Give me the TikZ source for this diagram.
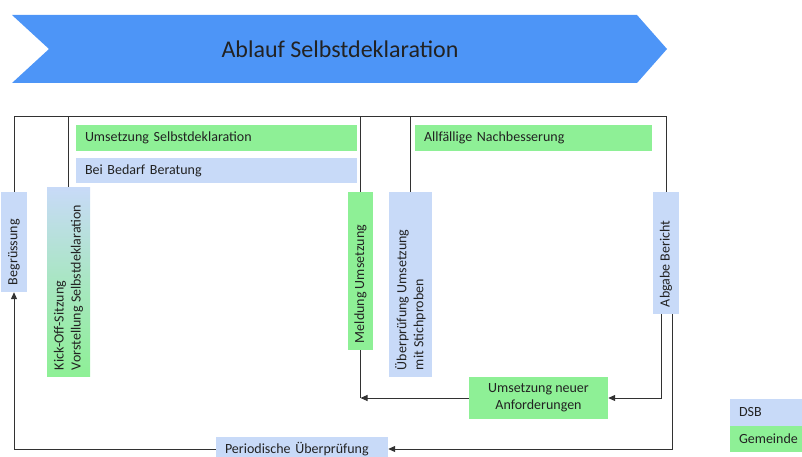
\documentclass[tikz,border=0pt]{standalone}
\usepackage{fontspec}
\setmainfont{Carlito}
\usepackage{graphicx}
\usetikzlibrary{arrows.meta}
\definecolor{dsbblue}{RGB}{200,218,248}
\definecolor{gemgreen}{RGB}{142,240,150}
\definecolor{chev}{RGB}{77,149,247}
\definecolor{ink}{RGB}{34,34,34}
\definecolor{wire}{RGB}{50,50,50}
\tikzset{
  box/.style={inner sep=0pt, text=ink, font=\fontsize{14}{17}\selectfont, anchor=center},
  bluebox/.style={box, fill=dsbblue},
  greenbox/.style={box, fill=gemgreen},
  hbox/.style={inner xsep=9pt, align=left, text width=#1},
  conn/.style={draw=wire, line width=1pt},
  arr/.style={conn, -{Triangle[length=7pt,width=6pt]}}
}
\newcommand{\vtext}[2]{\rotatebox{90}{\parbox{#1}{\raggedright #2}}}
\begin{document}
\begin{tikzpicture}[x=1pt,y=-1pt]
\useasboundingbox (0,0) rectangle (802,457);
% chevron
\fill[chev] (12,15) -- (637,15) -- (667,49) -- (637,83) -- (12,83) -- (49,49) -- cycle;
\node[text=ink, font=\fontsize{24}{28}\selectfont] (title) at (340,49) {Ablauf Selbstdeklaration};
% horizontal boxes
\node[greenbox, hbox=263pt, minimum height=26pt] (umsd) at (216.5,138) {Umsetzung Selbstdeklaration};
\node[bluebox, hbox=263pt, minimum height=25pt] (bera) at (216.5,170.5) {Bei Bedarf Beratung};
\node[greenbox, hbox=219pt, minimum height=26pt] (nach) at (533.5,138) {Allfällige Nachbesserung};
\node[bluebox, hbox=154pt, minimum height=24pt] (peri) at (302,449) {Periodische Überprüfung};
\node[greenbox, align=center, minimum width=139pt, minimum height=42pt] (neuer) at (538.5,398) {Umsetzung neuer\\Anforderungen};
% legend
\node[bluebox, hbox=62pt, minimum height=27pt] (dsb) at (770,412.5) {DSB};
\node[greenbox, hbox=62pt, minimum height=26pt] (gem) at (770,439) {Gemeinde};
% vertical boxes
\node[bluebox, minimum width=26pt, minimum height=100pt] (beg) at (14,242) {\vtext{86pt}{Begrüssung}};
\node[box, top color=dsbblue, bottom color=gemgreen, middle color=dsbblue!45!gemgreen, minimum width=43pt, minimum height=189pt] (kick) at (68.5,281.5) {\vtext{177pt}{Kick-Off-Sitzung\\Vorstellung Selbstdeklaration}};
\node[greenbox, minimum width=25pt, minimum height=158pt] (meld) at (360.5,271) {\vtext{144pt}{Meldung Umsetzung}};
\node[bluebox, minimum width=43pt, minimum height=185pt] (ueber) at (410.5,284.5) {\vtext{171pt}{Überprüfung Umsetzung\\mit Stichproben}};
\node[bluebox, minimum width=26pt, minimum height=122pt] (abg) at (666,253) {\vtext{108pt}{Abgabe Bericht}};
% connectors
\coordinate (tr) at (666,117);
\draw[conn] (beg.north) |- (tr) -- (abg.north);
\draw[conn] (kick.north) -- (kick.north |- tr);
\draw[conn] (meld.north) -- (meld.north |- tr);
\draw[conn] (ueber.north) -- (ueber.north |- tr);
\coordinate (a1) at ([xshift=-5pt]abg.south);
\coordinate (a2) at ([xshift=6pt]abg.south);
\draw[arr] (a1) |- (neuer.east);
\draw[arr] (a2) |- (peri.east);
\coordinate (mc) at (meld.south |- neuer.west);
\draw[conn] (meld.south) -- (mc);
\draw[arr] (neuer.west) -- (mc);
\draw[arr] (peri.west) -| (beg.south);
\end{tikzpicture}
\end{document}
